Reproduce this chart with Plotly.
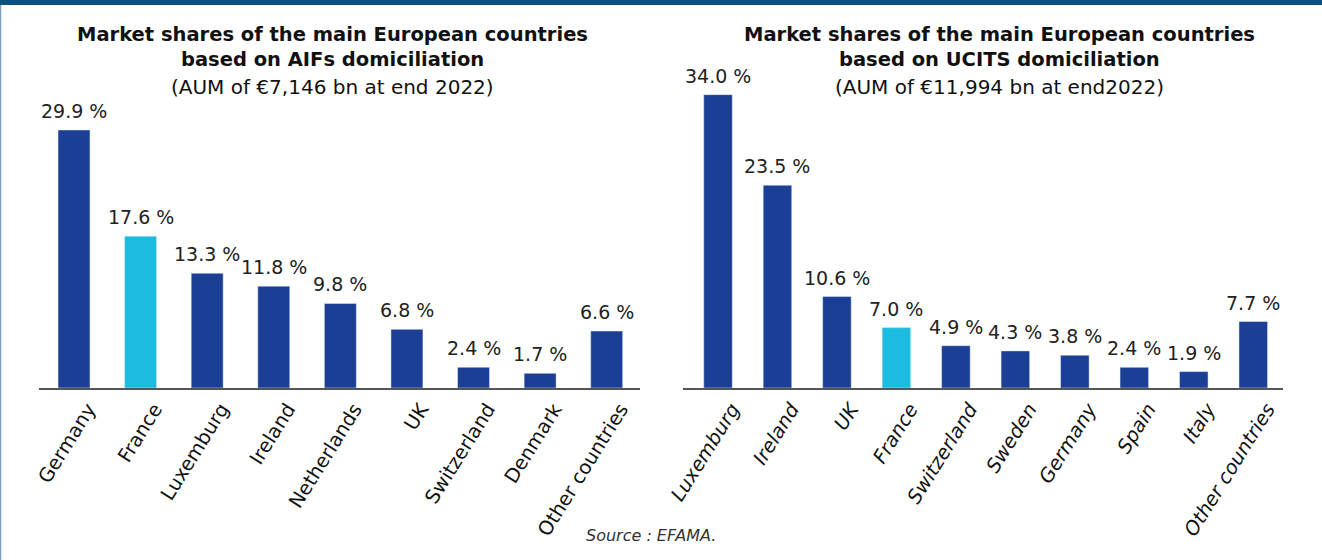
import plotly.graph_objects as go

aif_countries = ["Germany", "France", "Luxemburg", "Ireland", "Netherlands", "UK", "Switzerland", "Denmark", "Other countries"]
aif_shares = [29.9, 17.6, 13.3, 11.8, 9.8, 6.8, 2.4, 1.7, 6.6]

ucits_countries = ["Luxemburg", "Ireland", "UK", "France", "Switzerland", "Sweden", "Germany", "Spain", "Italy", "Other countries"]
ucits_shares = [34.0, 23.5, 10.6, 7.0, 4.9, 4.3, 3.8, 2.4, 1.9, 7.7]

DARK = "#1a3f95"
LIGHT = "#1cbbe0"
FONT = "DejaVu Sans"

def colors(cats):
    return [LIGHT if c == "France" else DARK for c in cats]

fig = go.Figure()
fig.add_trace(go.Bar(x=aif_countries, y=aif_shares, marker_color=colors(aif_countries),
                     xaxis="x", yaxis="y", showlegend=False, hoverinfo="x+y"))
fig.add_trace(go.Bar(x=ucits_countries, y=ucits_shares, marker_color=colors(ucits_countries),
                     xaxis="x2", yaxis="y2", showlegend=False, hoverinfo="x+y"))

annotations = []
for c, v in zip(aif_countries, aif_shares):
    annotations.append(dict(x=c, y=v, xref="x", yref="y", text=f"{v:.1f} %", showarrow=False,
                            yanchor="bottom", yshift=6, font=dict(family=FONT, size=19, color="#222")))
for c, v in zip(ucits_countries, ucits_shares):
    annotations.append(dict(x=c, y=v, xref="x2", yref="y2", text=f"{v:.1f} %", showarrow=False,
                            yanchor="bottom", yshift=6, font=dict(family=FONT, size=19, color="#222")))

W, H = 1322, 560
def px(x):
    return x / W
def py(y):
    return 1 - y / H

titles = [
    (332, "<b>Market shares of the main European countries</b>", 34, 19.5),
    (332, "<b>based on AIFs domiciliation</b>", 60, 19.5),
    (332, "(AUM of €7,146 bn at end 2022)", 87, 20),
    (1000, "<b>Market shares of the main European countries</b>", 34, 19.5),
    (1000, "<b>based on UCITS domiciliation</b>", 60, 19.5),
    (1000, "(AUM of €11,994 bn at end2022)", 87, 20),
]
for x, t, y, s in titles:
    annotations.append(dict(x=px(x), y=py(y), xref="paper", yref="paper", text=t, showarrow=False,
                            xanchor="center", yanchor="middle",
                            font=dict(family=FONT, size=s, color="#111")))

annotations.append(dict(x=px(651), y=py(535), xref="paper", yref="paper", text="Source : EFAMA.",
                        showarrow=False, xanchor="center", yanchor="middle",
                        font=dict(family=FONT, size=16, color="#333", style="italic")))

ydom = [1 - 388 / H, 1 - 86 / H]
axis_common = dict(showgrid=False, showline=True, linecolor="#555", linewidth=2, ticks="",
                   tickangle=-58, automargin=False, ticklabelshift=14)
fig.update_layout(
    width=W, height=H,
    margin=dict(l=0, r=0, t=0, b=0, autoexpand=False),
    paper_bgcolor="white", plot_bgcolor="white",
    bargap=0.52,
    xaxis=dict(domain=[px(39), px(640)], anchor="y",
               tickfont=dict(family=FONT, size=19.5, color="#111"), **axis_common),
    xaxis2=dict(domain=[px(683), px(1283)], anchor="y2",
                tickfont=dict(family=FONT, size=19.5, color="#111", style="italic"), **axis_common),
    yaxis=dict(domain=ydom, range=[0, 35], visible=False, anchor="x"),
    yaxis2=dict(domain=ydom, range=[0, 35], visible=False, anchor="x2"),
    annotations=annotations,
    shapes=[
        dict(type="rect", xref="paper", yref="paper", x0=0, x1=1, y0=py(5), y1=1,
             fillcolor="#0d4f7e", line_width=0),
        dict(type="line", xref="paper", yref="paper", x0=0.0004, x1=0.0004, y0=0, y1=py(5),
             line=dict(color="#7aa3c4", width=1.5)),
    ],
)
fig.write_html("out.html", config={"displayModeBar": False},
               post_script="document.body.style.margin='0';document.body.style.overflow='hidden';")
